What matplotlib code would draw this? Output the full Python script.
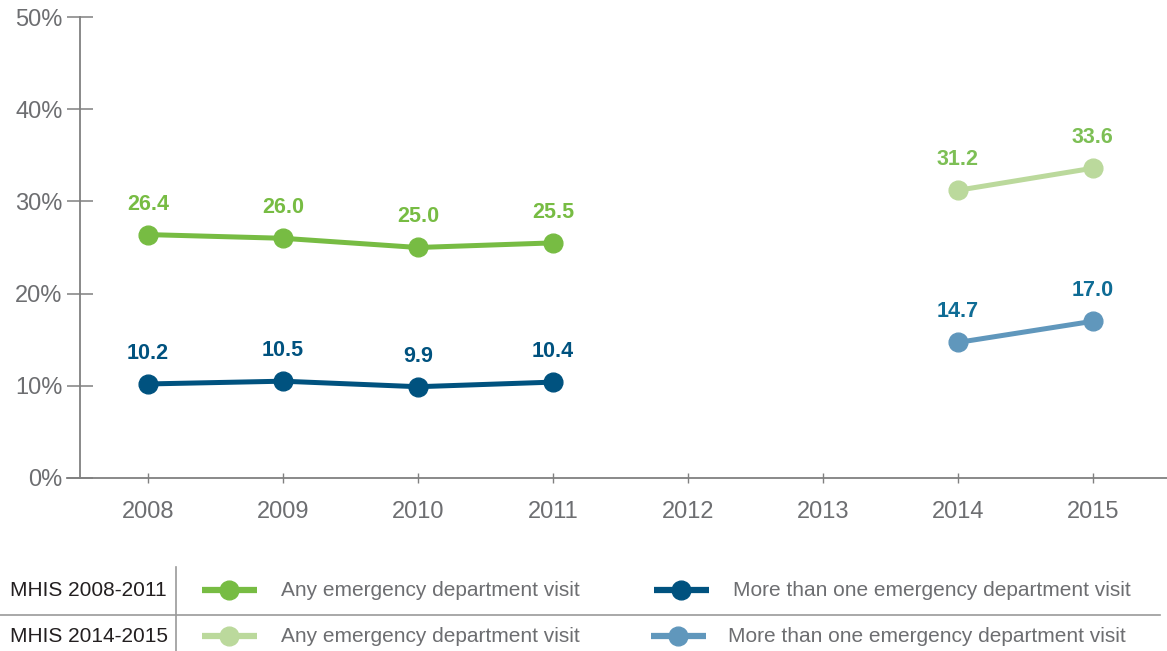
import matplotlib.pyplot as plt
from matplotlib.lines import Line2D

plt.rcParams['font.family'] = ['Liberation Sans', 'DejaVu Sans']

# MHIS survey results (% of adults)
years_a = [2008, 2009, 2010, 2011]
any_visit_a = [26.4, 26.0, 25.0, 25.5]
multi_visit_a = [10.2, 10.5, 9.9, 10.4]

years_b = [2014, 2015]
any_visit_b = [31.2, 33.6]
multi_visit_b = [14.7, 17.0]

all_years = [2008, 2009, 2010, 2011, 2012, 2013, 2014, 2015]
y_ticks = [0, 10, 20, 30, 40, 50]

row_labels = ['MHIS 2008-2011', 'MHIS 2014-2015']
series_labels = ['Any emergency department visit',
                 'More than one emergency department visit']

GREEN = '#77bc43'
NAVY = '#00527f'
LIGHT_GREEN = '#bbd99c'
LIGHT_BLUE = '#6097bc'
AXIS_GRAY = '#808080'
TEXT_GRAY = '#6d6e71'

W, H = 1167, 651
fig = plt.figure(figsize=(W / 100, H / 100), dpi=100)

# main plot, placed in pixel units
ax = fig.add_axes([67 / W, (H - 478) / H, 1100 / W, 461 / H])
ax.set_xlim(2007.4, 2015.55)
ax.set_ylim(0, 50)

series = [
    (years_a, any_visit_a, GREEN, GREEN),
    (years_a, multi_visit_a, NAVY, NAVY),
    (years_b, any_visit_b, LIGHT_GREEN, '#7dbf55'),
    (years_b, multi_visit_b, LIGHT_BLUE, '#0f6c95'),
]
for xs, ys, color, label_color in series:
    ax.plot(xs, ys, color=color, lw=3.6, marker='o', ms=13.5,
            solid_capstyle='butt', clip_on=False, zorder=3)
    for x, y in zip(xs, ys):
        ax.annotate(f'{y:.1f}', (x, y), xytext=(0, 22), textcoords='offset points',
                    ha='center', va='center', fontsize=15.5, fontweight='bold',
                    color=label_color)

for side in ['top', 'right']:
    ax.spines[side].set_visible(False)
ax.spines['left'].set_position(('data', 2007.5))
for side in ['left', 'bottom']:
    ax.spines[side].set_color(AXIS_GRAY)
    ax.spines[side].set_linewidth(1.3)

ax.set_yticks(y_ticks)
ax.set_yticklabels([f'{v}%' for v in y_ticks])
ax.set_xticks(all_years)
ax.set_xticklabels([str(y) for y in all_years])
ax.tick_params(axis='y', direction='inout', length=18.7, width=1.1,
               color=AXIS_GRAY, labelcolor=TEXT_GRAY, labelsize=17, pad=3.6)
ax.tick_params(axis='x', direction='inout', length=7.5, width=1.0,
               color=AXIS_GRAY, labelcolor=TEXT_GRAY, labelsize=17, pad=13)

# legend table below the plot
lg = fig.add_axes([0, 0, 1, 1])
lg.set_xlim(0, W)
lg.set_ylim(H, 0)
lg.axis('off')
lg.add_line(Line2D([0, 1160], [615, 615], color='#9a9a9a', lw=1.2))
lg.add_line(Line2D([176, 176], [567, 651], color='#9a9a9a', lw=1.2))

rows = [
    (590, [(229, GREEN, 281), (681, NAVY, 733)]),
    (636, [(229, LIGHT_GREEN, 281), (678, LIGHT_BLUE, 728)]),
]
for (row_y, entries), row_label in zip(rows, row_labels):
    lg.text(10, row_y, row_label, fontsize=15, color='#231f20',
            ha='left', va='center')
    for (mx, color, tx), label in zip(entries, series_labels):
        lg.add_line(Line2D([mx - 27, mx + 28], [row_y, row_y], color=color,
                           lw=4.5, solid_capstyle='butt'))
        lg.add_line(Line2D([mx], [row_y], color=color, marker='o', ms=13.5, lw=0))
        lg.text(tx, row_y, label, fontsize=15, color=TEXT_GRAY,
                ha='left', va='center')

fig.savefig('out.png', dpi=100)
